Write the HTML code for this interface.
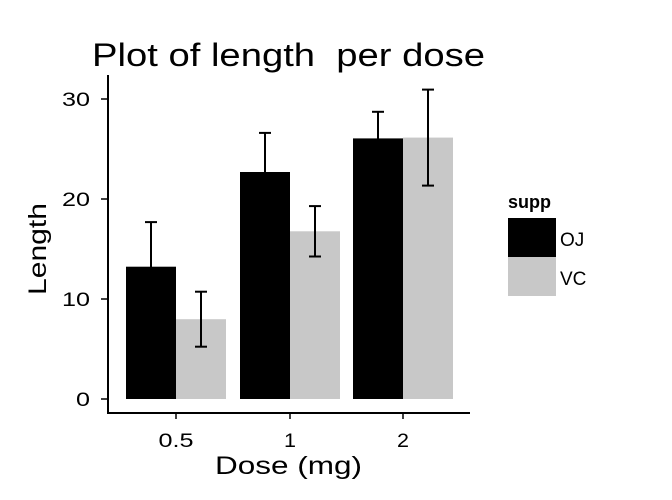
<!DOCTYPE html>
<html><head><meta charset="utf-8"><style>
body{margin:0;background:#fff;}
svg{display:block;font-family:"Liberation Sans",Arial,sans-serif;}
</style></head><body>
<svg id="chart" width="672" height="500">
<text x="92" y="66" font-size="32" fill="#000" textLength="393" lengthAdjust="spacingAndGlyphs" xml:space="preserve">Plot of length&#160; per dose</text>
<g id="bars"></g>
<g id="axes"></g>
<text x="215" y="474" font-size="25" textLength="147" lengthAdjust="spacingAndGlyphs">Dose (mg)</text>
<text transform="translate(46,295) rotate(-90)" font-size="25" textLength="92" lengthAdjust="spacingAndGlyphs">Length</text>
<g>
<text x="508" y="208" font-size="18" font-weight="bold">supp</text>
<rect x="508" y="218" width="48" height="39" fill="#000"/>
<rect x="508" y="257" width="48" height="39" fill="#c8c8c8"/>
<text x="560" y="246" font-size="19">OJ</text>
<text x="560" y="285" font-size="19">VC</text>
</g>
</svg>
<script>
const categories = ["0.5","1","2"];
const ojValues = [13.23, 22.70, 26.06];
const vcValues = [7.98, 16.77, 26.14];
const ojSd = [4.46, 3.91, 2.66];
const vcSd = [2.75, 2.52, 4.80];
const yTicks = [0,10,20,30];

const NS="http://www.w3.org/2000/svg";
function y(v){return 399-10*v;}
function xc(i){return [176,290,403][i];}
const bw=50;
const bars=document.getElementById('bars');
const axes=document.getElementById('axes');
function mk(tag,attrs,parent){const e=document.createElementNS(NS,tag);for(const k in attrs)e.setAttribute(k,attrs[k]);parent.appendChild(e);return e;}
categories.forEach((c,i)=>{
  const series=[[ojValues[i],ojSd[i],'#000',-bw,'oj'],[vcValues[i],vcSd[i],'#c8c8c8',0,'vc']];
  series.forEach(s=>{
    const r=mk('rect',{x:xc(i)+s[3],y:y(s[0]),width:bw,height:y(0)-y(s[0]),fill:s[2]},bars);
    
    
  });
  series.forEach(s=>{
    const cx=xc(i)+s[3]+bw/2;
    const g=mk('g',{stroke:'#000','stroke-width':2,fill:'none'},bars);
    
    
    const hi=y(s[0]+s[1]),lo=y(s[0]-s[1]);
    mk('line',{x1:cx,x2:cx,y1:hi,y2:lo},g);
    mk('line',{x1:cx-6,x2:cx+6,y1:hi,y2:hi},g);
    mk('line',{x1:cx-6,x2:cx+6,y1:lo,y2:lo},g);
  });
  const w=c.length===3?35:12;
  const t=mk('text',{x:xc(i)-w/2,y:447,'font-size':19,textLength:w,lengthAdjust:'spacingAndGlyphs'},axes);
  t.textContent=c;
  
  
  mk('line',{x1:xc(i),x2:xc(i),y1:413,y2:419,stroke:'#000','stroke-width':1.5},axes);
});
yTicks.forEach(v=>{
  mk('line',{x1:101,x2:108,y1:y(v),y2:y(v),stroke:'#000','stroke-width':1.5},axes);
  const s=String(v);
  const w=s.length*14;
  const t=mk('text',{x:90-w,y:y(v)+7,'font-size':19,textLength:w,lengthAdjust:'spacingAndGlyphs'},axes);
  t.textContent=s;
  
  
});
const ya=mk('line',{x1:108,x2:108,y1:75,y2:414,stroke:'#000','stroke-width':2},axes);


const xa=mk('line',{x1:107,x2:470,y1:413,y2:413,stroke:'#000','stroke-width':2},axes);


</script>
</body></html>
